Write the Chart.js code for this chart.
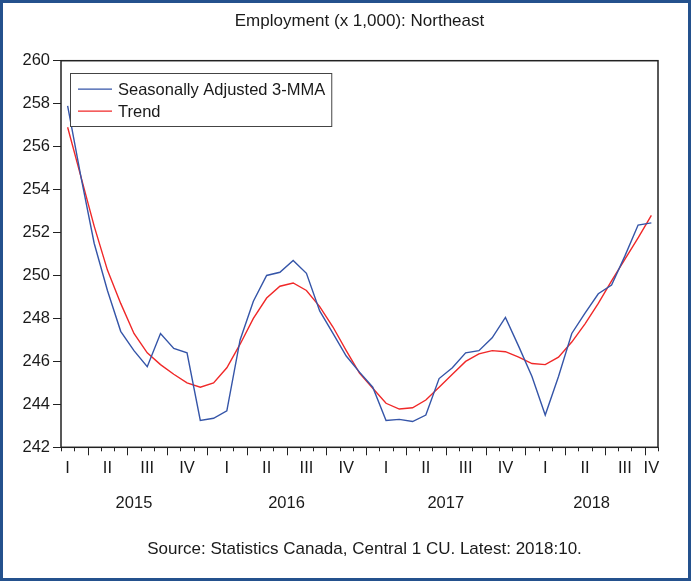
<!DOCTYPE html>
<html lang="en">
<head>
<meta charset="UTF-8">
<title>Employment (x 1,000): Northeast</title>
<script src="https://cdn.jsdelivr.net/npm/chart.js"></script>
<style>
    html, body { margin: 0; padding: 0; background: #fff; }
    #wrap { width: 691px; height: 581px; }
</style>
</head>
<body>
<div id="wrap"><canvas id="chart" width="691" height="581"></canvas></div>
<script>
// monthly observations, 2015:02 to 2018:10
const months = [
    '2015:02', '2015:03', '2015:04', '2015:05', '2015:06', '2015:07', '2015:08', '2015:09', '2015:10', '2015:11', '2015:12',
    '2016:01', '2016:02', '2016:03', '2016:04', '2016:05', '2016:06', '2016:07', '2016:08', '2016:09', '2016:10', '2016:11', '2016:12',
    '2017:01', '2017:02', '2017:03', '2017:04', '2017:05', '2017:06', '2017:07', '2017:08', '2017:09', '2017:10', '2017:11', '2017:12',
    '2018:01', '2018:02', '2018:03', '2018:04', '2018:05', '2018:06', '2018:07', '2018:08', '2018:09', '2018:10'
];
const years = ['2015', '2016', '2017', '2018'];
const quarterNames = ['I', 'II', 'III', 'IV'];

const sa3mma = [
    257.9, 254.6, 251.5, 249.3, 247.4, 246.5, 245.75, 247.3, 246.6, 246.4, 243.25,
    243.35, 243.7, 247.0, 248.8, 250.0, 250.15, 250.7, 250.1, 248.35, 247.3, 246.25, 245.5,
    244.8, 243.25, 243.3, 243.2, 243.5, 245.2, 245.7, 246.4, 246.5, 247.1, 248.05, 246.7,
    245.3, 243.5, 245.3, 247.3, 248.25, 249.15, 249.55, 250.9, 252.35, 252.45
];
const trend = [
    256.9, 254.6, 252.3, 250.25, 248.7, 247.3, 246.4, 245.85, 245.4, 245.0, 244.8,
    245.0, 245.7, 246.8, 248.0, 248.95, 249.5, 249.65, 249.3, 248.55, 247.6, 246.5, 245.45,
    244.75, 244.05, 243.78, 243.84, 244.2, 244.8, 245.4, 246.0, 246.35, 246.5, 246.45, 246.2,
    245.9, 245.85, 246.2, 246.9, 247.75, 248.7, 249.75, 250.75, 251.75, 252.8
];

const titleText = 'Employment (x 1,000): Northeast';
const sourceText = 'Source: Statistics Canada, Central 1 CU. Latest: 2018:10.';

const yMin = 242, yMax = 260, yStep = 2;

const FONT = "'Liberation Sans', Arial, sans-serif";
const FS = 16.5;
const INK = '#1a1a1a';

const decor = {
    id: 'decor',
    beforeDraw(chart) {
        const ctx = chart.ctx;
        ctx.save();
        ctx.fillStyle = '#fff';
        ctx.fillRect(0, 0, chart.width, chart.height);
        ctx.restore();
    },
    afterDraw(chart) {
        const ctx = chart.ctx;
        const area = chart.chartArea;
        const x = chart.scales.x;
        const mid = (area.left + area.right) / 2;
        ctx.save();

        // plot frame
        ctx.strokeStyle = '#222';
        ctx.lineWidth = 1.5;
        ctx.strokeRect(area.left, area.top, area.right - area.left, area.bottom - area.top);

        // month ticks, longer at quarter starts
        ctx.lineWidth = 1;
        for (let k = 0; k <= months.length; k++) {
            const px = Math.round(x.getPixelForValue(k - 0.5)) + 0.5;
            let len = 4;
            if (k < months.length && (+months[k].slice(5)) % 3 === 1) len = 8;
            ctx.beginPath();
            ctx.moveTo(px, area.bottom);
            ctx.lineTo(px, area.bottom + len);
            ctx.stroke();
        }

        // title and source line, centred on the plot
        ctx.fillStyle = INK;
        ctx.textBaseline = 'middle';
        ctx.textAlign = 'center';
        ctx.font = '17px ' + FONT;
        ctx.fillText(titleText, mid, 21);
        ctx.fillText(sourceText, mid + 5, 549);

        // year labels centred on the visible months of each year
        ctx.font = FS + 'px ' + FONT;
        years.forEach(yr => {
            const idx = months.map((m, i) => m.startsWith(yr) ? i : -1).filter(i => i >= 0);
            const a = x.getPixelForValue(idx[0] - 0.5);
            const b = x.getPixelForValue(idx[idx.length - 1] + 0.5);
            ctx.fillText(yr, (a + b) / 2, area.bottom + 56);
        });

        // legend box in the upper left of the plot
        const sets = chart.data.datasets;
        const textW = Math.max(...sets.map(d => ctx.measureText(d.label).width));
        const lx = area.left + 9, ly = area.top + 12.5;
        const bw = 8 + 34 + 6 + textW + 6, bh = 53;
        ctx.fillStyle = '#fff';
        ctx.fillRect(lx, ly, bw, bh);
        ctx.strokeStyle = '#444';
        ctx.lineWidth = 1;
        ctx.strokeRect(Math.round(lx) + 0.5, Math.round(ly) + 0.5, bw, bh);
        sets.forEach((d, i) => {
            const cy = ly + 16 + i * 22;
            ctx.strokeStyle = d.borderColor;
            ctx.lineWidth = 1.3;
            ctx.beginPath();
            ctx.moveTo(lx + 8, cy);
            ctx.lineTo(lx + 42, cy);
            ctx.stroke();
            ctx.fillStyle = INK;
            ctx.textAlign = 'left';
            ctx.fillText(d.label, lx + 48, cy + 1);
        });

        // outer blue frame
        ctx.strokeStyle = '#24518d';
        ctx.lineWidth = 3;
        ctx.strokeRect(1.5, 1.5, chart.width - 3, chart.height - 3);
        ctx.restore();
    }
};

new Chart(document.getElementById('chart'), {
    type: 'line',
    data: {
        labels: months,
        datasets: [
            {
                label: 'Seasonally Adjusted 3-MMA',
                data: sa3mma,
                borderColor: '#3555a8',
                borderWidth: 1.4,
                pointRadius: 0,
                tension: 0,
                fill: false
            },
            {
                label: 'Trend',
                data: trend,
                borderColor: '#f02828',
                borderWidth: 1.4,
                pointRadius: 0,
                tension: 0,
                fill: false
            }
        ]
    },
    options: {
        responsive: false,
        animation: false,
        devicePixelRatio: 1,
        layout: { padding: { left: 0, right: 33, top: 60.7, bottom: 0 } },
        plugins: {
            legend: { display: false },
            tooltip: { enabled: false }
        },
        scales: {
            x: {
                type: 'category',
                offset: true,
                grid: { display: false, drawTicks: false },
                border: { display: false },
                ticks: {
                    autoSkip: false,
                    maxRotation: 0,
                    padding: 11,
                    color: INK,
                    font: { family: FONT, size: FS },
                    callback: function (value, index) {
                        const m = +months[index].slice(5);
                        if (m % 3 === 2) return quarterNames[(m - 2) / 3];
                        if (index === months.length - 1) return quarterNames[Math.floor((m - 1) / 3)];
                        return '';
                    }
                },
                afterFit: function (scale) { scale.height = 133.7; }
            },
            y: {
                min: yMin,
                max: yMax,
                grid: { display: true, drawOnChartArea: false, drawTicks: true, tickLength: 8, tickColor: '#222' },
                border: { display: false },
                ticks: {
                    stepSize: yStep,
                    padding: 3,
                    color: INK,
                    font: { family: FONT, size: FS }
                },
                afterFit: function (scale) { scale.width = 61; }
            }
        }
    },
    plugins: [decor]
});
</script>
</body>
</html>
